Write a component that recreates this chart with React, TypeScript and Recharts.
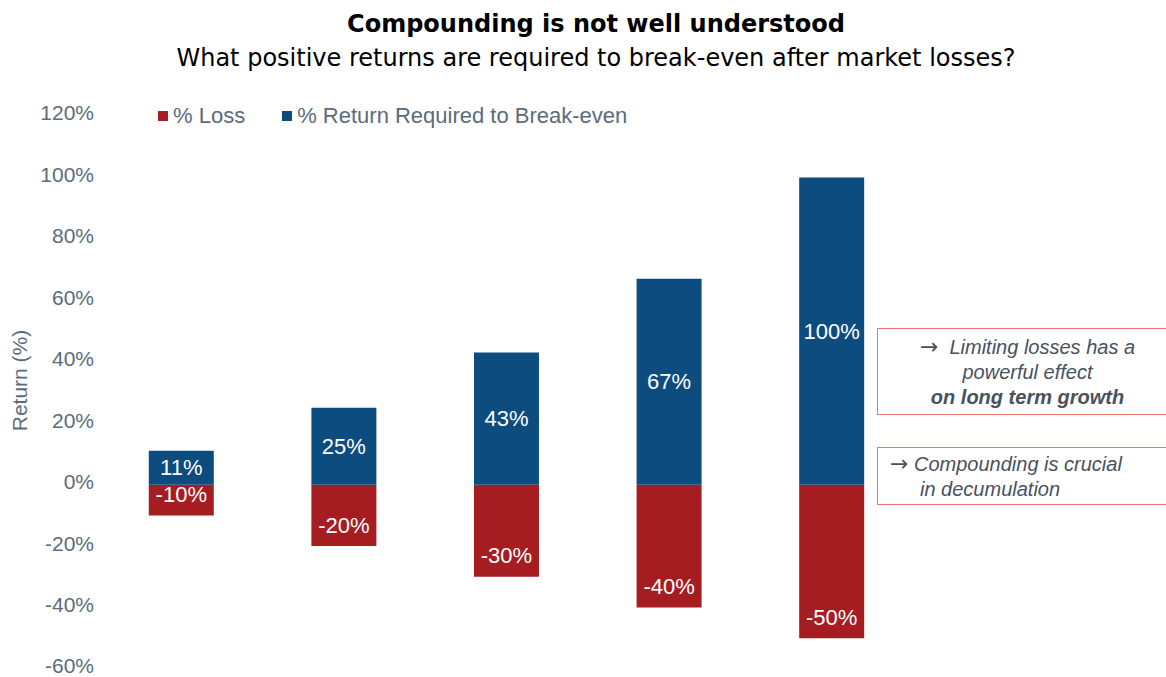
import { BarChart, Bar, XAxis, YAxis, LabelList } from 'recharts';

const scenarios = ['10% loss', '20% loss', '30% loss', '40% loss', '50% loss'];
const lossPct = [-10, -20, -30, -40, -50];
const breakEvenPct = [11, 25, 43, 67, 100];
const yTicks = [-60, -40, -20, 0, 20, 40, 60, 80, 100, 120];

const seriesNames = { loss: '% Loss', breakEven: '% Return Required to Break-even' };
const RED = '#A51D21';
const BLUE = '#0D4C7E';
const AXIS_TEXT = '#5C6B7A';
const NOTE_TEXT = '#47525E';

const data = scenarios.map((name, i) => ({ name, loss: lossPct[i], breakEven: breakEvenPct[i] }));

const pct = (v: number) => `${v}%`;

// loss labels sit near the bottom of the red bar, break-even labels in the middle of the blue one
function lossLabel(props: any) {
  const { x, y, width, height, value } = props;
  const bottom = Math.max(y, y + height);
  return (
    <text x={x + width / 2} y={bottom - 21} fill="#fff" fontSize={22} textAnchor="middle" dominantBaseline="central">
      {pct(value)}
    </text>
  );
}

function gainLabel(props: any) {
  const { x, y, width, height, value } = props;
  return (
    <text x={x + width / 2} y={y + height / 2} fill="#fff" fontSize={22} textAnchor="middle" dominantBaseline="central">
      {pct(value)}
    </text>
  );
}

function ChartLegend() {
  const items = [
    { label: seriesNames.loss, color: RED },
    { label: seriesNames.breakEven, color: BLUE },
  ];
  return (
    <div style={{ position: 'absolute', top: 103, left: 158, display: 'flex', gap: 37, fontSize: 22, lineHeight: '26px', color: AXIS_TEXT }}>
      {items.map((it) => (
        <div key={it.label} style={{ display: 'flex', alignItems: 'center' }}>
          <span style={{ width: 10, height: 10, background: it.color, marginRight: 5, display: 'inline-block' }} />
          {it.label}
        </div>
      ))}
    </div>
  );
}

const boxStyle: React.CSSProperties = {
  position: 'absolute',
  left: 877,
  width: 300,
  border: '1px solid #EE7474',
  borderRight: 'none',
  color: NOTE_TEXT,
  fontStyle: 'italic',
  fontSize: 20,
  lineHeight: '25px',
  boxSizing: 'border-box',
};

const arrowStyle: React.CSSProperties = { fontFamily: '"DejaVu Sans", sans-serif', fontStyle: 'normal', fontSize: 22, lineHeight: '20px' };

export default function App() {
  return (
    <div
      style={{
        position: 'absolute',
        left: 0,
        top: 0,
        width: 1166,
        height: 677,
        overflow: 'hidden',
        background: '#fff',
        fontFamily: '"Liberation Sans", Arial, sans-serif',
      }}
    >
      <div style={{ position: 'absolute', top: 8, left: 0, width: 1192, textAlign: 'center', fontFamily: '"DejaVu Sans", Verdana, sans-serif', color: '#000' }}>
        <div style={{ fontWeight: 'bold', fontSize: 24, lineHeight: '32px' }}>Compounding is not well understood</div>
        <div style={{ fontSize: 24, lineHeight: '36px' }}>What positive returns are required to break-even after market losses?</div>
      </div>

      <div style={{ position: 'absolute', top: 0, left: 0 }}>
        <BarChart
          width={1166}
          height={677}
          data={data}
          stackOffset="sign"
          barCategoryGap="30%"
          margin={{ top: 116, right: 253, bottom: 8, left: 0 }}
        >
          <XAxis dataKey="name" hide />
          <YAxis
            width={100}
            domain={[-60, 120]}
            ticks={yTicks}
            interval={0}
            tickFormatter={pct}
            axisLine={false}
            tickLine={false}
            tickSize={4}
            tick={{ fill: AXIS_TEXT, fontSize: 21, dy: -3 }}
            label={{ value: 'Return (%)', angle: -90, position: 'center', dx: -30, dy: -12, fill: AXIS_TEXT, fontSize: 21 }}
          />
          <Bar dataKey="loss" name={seriesNames.loss} stackId="s" fill={RED} isAnimationActive={false}>
            <LabelList dataKey="loss" content={lossLabel} />
          </Bar>
          <Bar dataKey="breakEven" name={seriesNames.breakEven} stackId="s" fill={BLUE} isAnimationActive={false}>
            <LabelList dataKey="breakEven" content={gainLabel} />
          </Bar>
        </BarChart>
      </div>

      <ChartLegend />

      <div style={{ ...boxStyle, top: 328, height: 87, textAlign: 'center', paddingTop: 6, paddingLeft: 0 }}>
        <div><span style={arrowStyle}>→</span> &nbsp;Limiting losses has a</div>
        <div>powerful effect</div>
        <div style={{ fontWeight: 'bold' }}>on long term growth</div>
      </div>
      <div style={{ ...boxStyle, top: 447, height: 58, paddingTop: 4, paddingLeft: 12 }}>
        <div><span style={arrowStyle}>→</span> Compounding is crucial</div>
        <div style={{ paddingLeft: 30 }}>in decumulation</div>
      </div>
    </div>
  );
}
